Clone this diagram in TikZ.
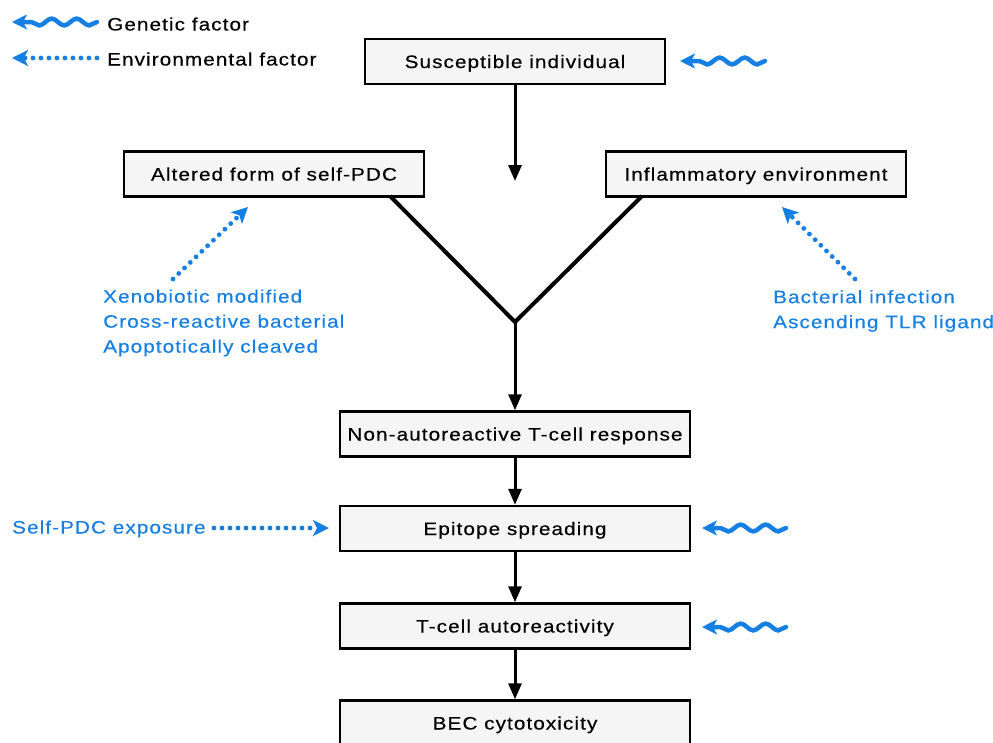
\documentclass[tikz,border=0pt]{standalone}
\usepackage{fontspec}
\setmainfont{Liberation Sans}[FakeStretch=1.15, LetterSpace=6, FakeBold=0.3]
\usetikzlibrary{arrows.meta,decorations.pathmorphing}
\definecolor{fblue}{RGB}{22,128,226}
\definecolor{boxfill}{RGB}{245,245,245}
\tikzset{
  stepbox/.style={draw=black, line width=2.5pt, fill=boxfill, inner sep=0pt,
    minimum height=45pt, text height=13pt, text depth=0pt, font=\fontsize{18}{22}\selectfont},
  flow/.style={line width=3pt, -{Triangle[length=16pt,width=13pt]}},
  vline/.style={line width=4pt},
  genetic/.style={fblue, line width=4.5pt, line cap=round,
    -{Stealth[length=15pt,width=15pt,inset=4pt]},
    decorate, decoration={snake, amplitude=3.4pt, segment length=25pt, post length=9pt}},
  environ/.style={fblue, line width=4.8pt, line cap=round, dash pattern=on 0pt off 8pt,
    -{Stealth[length=16pt,width=16pt,inset=4pt]}},
  bluetext/.style={fblue, font=\fontsize{18}{25}\selectfont, align=left, inner sep=0pt},
  legtext/.style={black, font=\fontsize{18}{22}\selectfont, inner sep=0pt, text height=13pt, text depth=0pt}
}
\begin{document}
\begin{tikzpicture}[x=1pt, y=-1pt]
\useasboundingbox (0,0) rectangle (993,742);
\clip (0,0) rectangle (993,742);
% legend
\coordinate (lg1s) at (97,22);
\coordinate (lg1e) at (12,22);
\coordinate (lg2s) at (97,58);
\coordinate (lg2e) at (12,58);
\draw[genetic] (lg1s) -- (lg1e);
\draw[environ] (lg2s) -- (lg2e);
\node[legtext, anchor=west] (lgt1) at (107,24) {Genetic factor};
\node[legtext, anchor=west] (lgt2) at (107,59) {Environmental factor};
% boxes
\node[stepbox, minimum width=300pt] (sus) at (515,61.5) {Susceptible individual};
\node[stepbox, minimum width=300pt] (alt) at (274,174) {Altered form of self-PDC};
\node[stepbox, minimum width=300pt] (inf) at (756,174) {Inflammatory environment};
\node[stepbox, minimum width=350pt] (non) at (515,434) {Non-autoreactive T-cell response};
\node[stepbox, minimum width=350pt] (epi) at (515,528.5) {Epitope spreading};
\node[stepbox, minimum width=350pt] (tca) at (515,626) {T-cell autoreactivity};
\node[stepbox, minimum width=350pt] (bec) at (515,723) {BEC cytotoxicity};
% connectors
\coordinate (susend) at (515,181);
\draw[flow] (sus.south) -- (susend);
\coordinate (junc) at (515,322);
\coordinate (altv) at (390,196);
\coordinate (infv) at (642,196);
\draw[vline, line join=miter] (altv) -- (junc) -- (infv);
\draw[flow] (junc) -- (non.north);
\draw[flow] (non.south) -- (epi.north);
\draw[flow] (epi.south) -- (tca.north);
\draw[flow] (tca.south) -- (bec.north);
% genetic factors
\coordinate (g1s) at (765,61);
\coordinate (g1e) at (680,61);
\coordinate (g2s) at (786,528);
\coordinate (g2e) at (702,528);
\coordinate (g3s) at (786,627);
\coordinate (g3e) at (702,627);
\draw[genetic] (g1s) -- (g1e);
\draw[genetic] (g2s) -- (g2e);
\draw[genetic] (g3s) -- (g3e);
% environmental factors
\coordinate (e1s) at (173,279);
\coordinate (e1e) at (248,207);
\coordinate (e2s) at (855,279);
\coordinate (e2e) at (782,207);
\coordinate (e3s) at (214,528);
\coordinate (e3e) at (329,528);
\draw[environ] (e1s) -- (e1e);
\draw[environ] (e2s) -- (e2e);
\draw[environ] (e3s) -- (e3e);
% blue texts
\node[bluetext, anchor=west] (xeno) at (103,323) {Xenobiotic modified\\Cross-reactive bacterial\\Apoptotically cleaved};
\node[bluetext, anchor=west] (bact) at (773,311) {Bacterial infection\\Ascending TLR ligand};
\node[bluetext, anchor=west, text height=13pt, text depth=0pt] (self) at (12,527) {Self-PDC exposure};
\end{tikzpicture}
\end{document}
